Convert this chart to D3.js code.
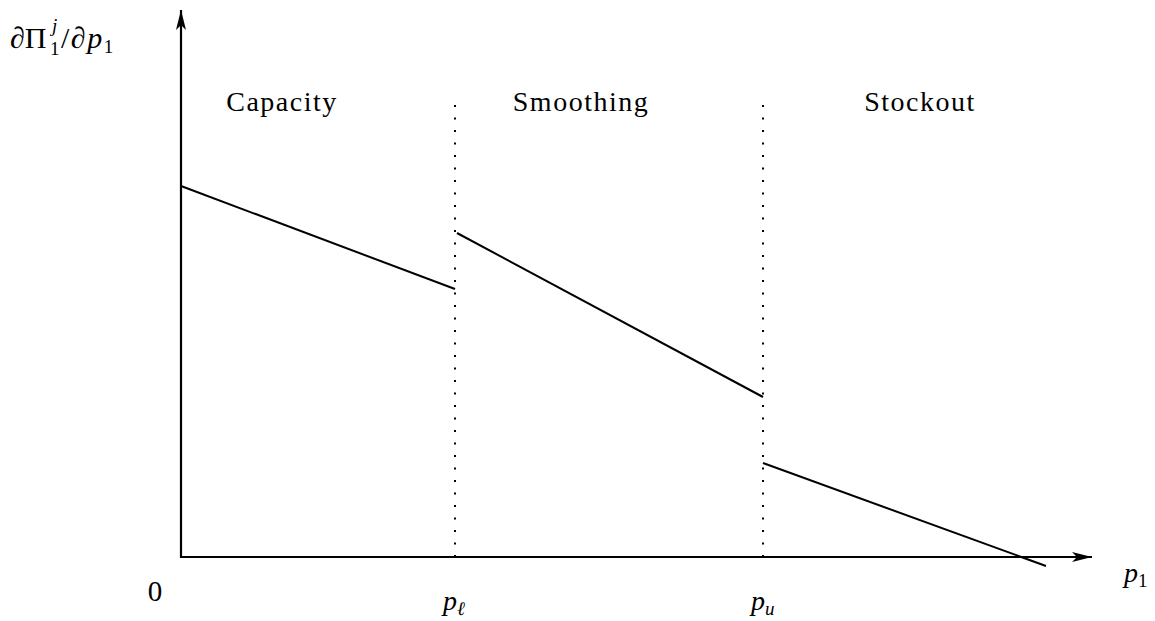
<!DOCTYPE html>
<html>
<head>
<meta charset="utf-8">
<script src="https://cdn.jsdelivr.net/npm/d3@7/dist/d3.min.js"></script>
<style>
  html, body { margin: 0; padding: 0; background: #fff; }
  svg { display: block; }
  text { font-family: "Liberation Serif", "DejaVu Serif", serif; fill: #000; }
</style>
</head>
<body>
<svg id="chart" width="1155" height="621"></svg>
<script>
// Regime boundaries on the price axis
const thresholds = [2.74, 5.82];
const thresholdLabels = ["ℓ", "u"];

// Regime names shown above each band
const regimes = ["Capacity", "Smoothing", "Stockout"];
const regimeCenters = [1.01, 4.00, 7.39];

// Piecewise-linear marginal profit: start/end price and value of each piece
const segStartP = [0, 2.76, 5.82];
const segStartV = [3.71, 3.24, 0.94];
const segEndP = [2.74, 5.82, 8.65];
const segEndV = [2.68, 1.60, -0.09];

// Axis extents
const xAxisMax = 9.11;
const yAxisMax = 5.47;

const svg = d3.select("#chart");
const x = d3.scaleLinear().domain([0, 1]).range([181, 281]);
const y = d3.scaleLinear().domain([0, 1]).range([557, 457]);

// Arrowhead marker (slender, LaTeX-style)
svg.append("defs").append("marker")
  .attr("id", "arrow")
  .attr("viewBox", "0 0 20 10")
  .attr("refX", 20).attr("refY", 5)
  .attr("markerWidth", 20).attr("markerHeight", 10)
  .attr("markerUnits", "userSpaceOnUse")
  .attr("orient", "auto")
  .append("path")
  .attr("d", "M0,0 L20,5 L0,10 L5,5 Z")
  .attr("fill", "#000");

// Dotted regime boundaries
svg.selectAll("line.bound").data(thresholds).join("line")
  .attr("class", "bound")
  .attr("x1", d => x(d)).attr("x2", d => x(d))
  .attr("y1", y(0)).attr("y2", y(4.52))
  .attr("stroke", "#000").attr("stroke-width", 2)
  .attr("stroke-dasharray", "2,10.5");

// Axes
svg.append("line")
  .attr("x1", x(0)).attr("y1", y(0))
  .attr("x2", x(xAxisMax)).attr("y2", y(0))
  .attr("stroke", "#000").attr("stroke-width", 2.2)
  .attr("marker-end", "url(#arrow)");
svg.append("line")
  .attr("x1", x(0)).attr("y1", y(0) + 1)
  .attr("x2", x(0)).attr("y2", y(yAxisMax))
  .attr("stroke", "#000").attr("stroke-width", 2.2)
  .attr("marker-end", "url(#arrow)");

// Curve segments
svg.selectAll("line.seg").data(d3.range(segStartP.length)).join("line")
  .attr("class", "seg")
  .attr("x1", i => x(segStartP[i])).attr("y1", i => y(segStartV[i]))
  .attr("x2", i => x(segEndP[i])).attr("y2", i => y(segEndV[i]))
  .attr("stroke", "#000").attr("stroke-width", 2);

// Regime titles
svg.selectAll("text.regime").data(regimes).join("text")
  .attr("class", "regime")
  .attr("x", (d, i) => x(regimeCenters[i]))
  .attr("y", 111)
  .attr("text-anchor", "middle")
  .attr("font-size", 28)
  .attr("letter-spacing", 1.5)
  .text(d => d);

// Threshold tick labels p_ℓ, p_u
const tl = svg.selectAll("text.thr").data(thresholds).join("text")
  .attr("class", "thr")
  .attr("x", d => x(d) - 12)
  .attr("y", 610)
  .attr("font-size", 28);
tl.append("tspan").attr("font-style", "italic").text("p");
tl.append("tspan").attr("font-style", "italic").attr("font-size", 19).attr("dy", 5)
  .text((d, i) => thresholdLabels[i]);

// Origin label
svg.append("text")
  .attr("x", 155).attr("y", 601)
  .attr("text-anchor", "middle")
  .attr("font-size", 29)
  .text("0");

// x-axis title p_1
const xt = svg.append("text").attr("x", 1124).attr("y", 582).attr("font-size", 28);
xt.append("tspan").attr("font-style", "italic").text("p");
xt.append("tspan").attr("font-size", 19).attr("dy", 5).text("1");

// y-axis title ∂Π_1^j/∂p_1
const yt1 = svg.append("text").attr("x", 10).attr("y", 48).attr("font-size", 30);
yt1.append("tspan").attr("font-style", "italic").text("∂");
yt1.append("tspan").text("Π");
svg.append("text").attr("x", 52).attr("y", 32).attr("font-size", 19)
  .attr("font-style", "italic").text("j");
svg.append("text").attr("x", 50).attr("y", 55).attr("font-size", 19).text("1");
const yt2 = svg.append("text").attr("x", 61).attr("y", 48).attr("font-size", 30)
  .attr("letter-spacing", 1.5);
yt2.append("tspan").text("/");
yt2.append("tspan").attr("font-style", "italic").text("∂p");
yt2.append("tspan").attr("font-size", 19).attr("dy", 5).text("1");
</script>
</body>
</html>
